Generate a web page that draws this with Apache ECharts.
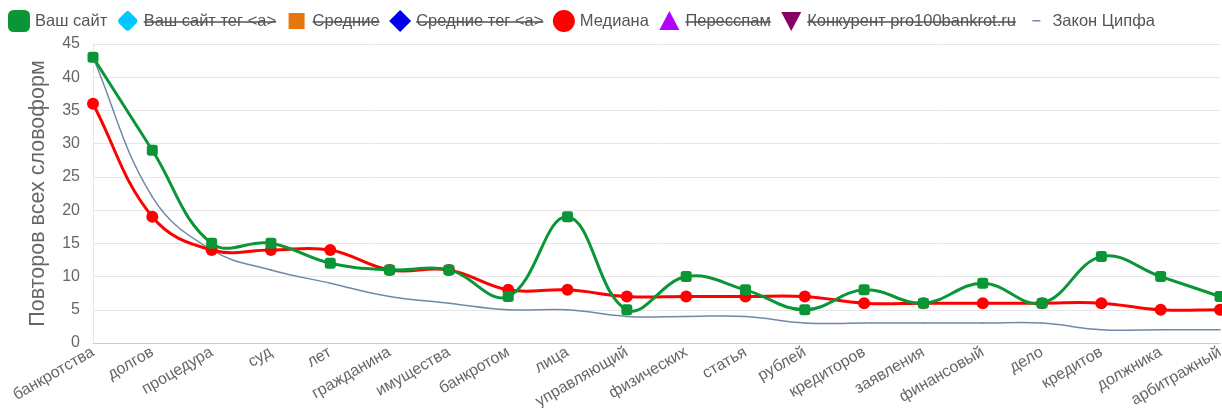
<!DOCTYPE html>
<html><head><meta charset="utf-8">
<script src="https://cdn.jsdelivr.net/npm/echarts@6/dist/echarts.min.js"></script>
<style>html,body{margin:0;padding:0;background:#fff}#c{width:1222px;height:408px}</style>
</head><body><div id="c"></div>
<script>
const categories = ['банкротства','долгов','процедура','суд','лет','гражданина','имущества','банкротом','лица','управляющий','физических','статья','рублей','кредиторов','заявления','финансовый','дело','кредитов','должника','арбитражный'];
const siteValues = [43,29,15,15,12,11,11,7,19,5,10,8,5,8,6,9,6,13,10,7];
const medianValues = [36,19,14,14,14,11,11,8,8,7,7,7,7,6,6,6,6,6,5,5];
const zipfValues = [43,22,14,11,9,7,6,5,5,4,4,4,3,3,3,3,3,2,2,2];
const legendNames = ['Ваш сайт','Ваш сайт тег <a>','Средние','Средние тег <a>','Медиана','Пересспам','Конкурент pro100bankrot.ru','Закон Ципфа'];
const hiddenNames = ['Ваш сайт тег <a>','Средние','Средние тег <a>','Пересспам','Конкурент pro100bankrot.ru'];
const yTicks = {min:0, max:45, interval:5};

const colors = {
  'Ваш сайт':'#0a9636',
  'Ваш сайт тег <a>':'#00c8ff',
  'Средние':'#e8760f',
  'Средние тег <a>':'#0000ee',
  'Медиана':'#ff0000',
  'Пересспам':'#b400ff',
  'Конкурент pro100bankrot.ru':'#870064',
  'Закон Ципфа':'#7189a8'
};
const icons = {
  'Ваш сайт':'roundRect',
  'Ваш сайт тег <a>':'path://M0,0M22,22M11,1Q12,1 13,2L20,9Q21,11 20,13L13,20Q11,21.5 9,20L2,13Q0.5,11 2,9L9,2Q10,1 11,1Z',
  'Средние':'path://M0,0M22,22M3,3L19,3L19,19L3,19Z',
  'Средние тег <a>':'diamond',
  'Медиана':'circle',
  'Пересспам':'path://M0,0M22,22M11,1L21,20L1,20Z',
  'Конкурент pro100bankrot.ru':'path://M0,0M22,22M1,2L21,2L11,21Z',
  'Закон Ципфа':'path://M0,0M22,22M7,10L15,10L15,11.5L7,11.5Z'
};

const FONT = 'Liberation Sans';
const LEG_LEFT = 8, LEG_TOP = 10, ITEM_W = 22, ITEM_H = 22, ITEM_GAP = 9.5, LEG_FS = 16.5;

// strike-through decorations for disabled legend entries
const mctx = document.createElement('canvas').getContext('2d');
mctx.font = LEG_FS + 'px "' + FONT + '"';
const strikes = [];
let lx = LEG_LEFT;
legendNames.forEach(n => {
  const tw = mctx.measureText(n).width;
  const tx = lx + ITEM_W + 5;
  if (hiddenNames.includes(n)) {
    strikes.push({type:'line', silent:true, z:100,
      shape:{x1:tx, y1:LEG_TOP + ITEM_H/2 + 1, x2:tx + tw, y2:LEG_TOP + ITEM_H/2 + 1},
      style:{stroke:'#555', lineWidth:1.5}});
  }
  lx = tx + tw + ITEM_GAP;
});

// cardinal-style spline (tension 0.4), control points from neighbouring points
const TENSION = 0.4;
function controls(pts, i) {
  const cur = pts[i];
  const prev = pts[Math.max(0, i-1)], next = pts[Math.min(pts.length-1, i+1)];
  const d01 = Math.hypot(cur[0]-prev[0], cur[1]-prev[1]);
  const d12 = Math.hypot(next[0]-cur[0], next[1]-cur[1]);
  let s01 = d01/(d01+d12), s12 = d12/(d01+d12);
  if (!isFinite(s01)) s01 = 0;
  if (!isFinite(s12)) s12 = 0;
  const fa = TENSION*s01, fb = TENSION*s12;
  return {
    px: cur[0] - fa*(next[0]-prev[0]), py: cur[1] - fa*(next[1]-prev[1]),
    nx: cur[0] + fb*(next[0]-prev[0]), ny: cur[1] + fb*(next[1]-prev[1])
  };
}
function splineSeries(name, values, width, z) {
  return {
    name, type:'custom', z, silent:true,
    data: values.map((v, i) => [i, v]),
    encode:{x:0, y:1},
    renderItem(params, api) {
      const i = params.dataIndex;
      if (i === 0) return null;
      const pts = values.map((v, k) => api.coord([k, v]));
      const a = controls(pts, i-1), b = controls(pts, i);
      const p0 = pts[i-1], p1 = pts[i];
      return {type:'path',
        shape:{pathData:`M${p0[0]},${p0[1]}C${a.nx},${a.ny} ${b.px},${b.py} ${p1[0]},${p1[1]}`},
        style:{stroke:colors[name], lineWidth:width, fill:null, lineCap:'round', lineJoin:'round'}};
    }
  };
}

const series = [
  splineSeries('Закон Ципфа', zipfValues, 1.5, 2),
  splineSeries('Медиана', medianValues, 3, 3),
  splineSeries('Ваш сайт', siteValues, 3, 4),
  {name:'Медиана', type:'scatter', data:medianValues, symbol:'circle', symbolSize:12,
   itemStyle:{color:colors['Медиана'], opacity:1}, z:5},
  {name:'Ваш сайт', type:'scatter', data:siteValues, symbol:'roundRect', symbolSize:11,
   itemStyle:{color:colors['Ваш сайт'], opacity:1}, z:6},
  {name:'Ваш сайт тег <a>', type:'line', data:[], itemStyle:{color:colors['Ваш сайт тег <a>']}},
  {name:'Средние', type:'line', data:[], itemStyle:{color:colors['Средние']}},
  {name:'Средние тег <a>', type:'line', data:[], itemStyle:{color:colors['Средние тег <a>']}},
  {name:'Пересспам', type:'line', data:[], itemStyle:{color:colors['Пересспам']}},
  {name:'Конкурент pro100bankrot.ru', type:'line', data:[], itemStyle:{color:colors['Конкурент pro100bankrot.ru']}}
];

const chart = echarts.init(document.getElementById('c'), null, {renderer:'canvas'});
chart.setOption({
  animation:false,
  backgroundColor:'#fff',
  textStyle:{fontFamily:FONT},
  legend:{
    left:LEG_LEFT, top:LEG_TOP, orient:'horizontal', itemWidth:ITEM_W, itemHeight:ITEM_H, itemGap:ITEM_GAP,
    padding:0,
    textStyle:{fontSize:LEG_FS, color:'#555', fontFamily:FONT},
    data: legendNames.map(n => ({name:n, icon:icons[n], itemStyle:{color:colors[n], borderWidth:0, opacity:1}}))
  },
  graphic: strikes,
  grid:{left:93, right:2, top:44, bottom:65, containLabel:false, outerBoundsMode:'none'},
  xAxis:{
    type:'category', data:categories, boundaryGap:false,
    axisLine:{show:true, lineStyle:{color:'#ccc', width:1}},
    axisTick:{show:false},
    axisLabel:{rotate:30, fontSize:16, color:'#666', margin:8, interval:0, fontFamily:FONT},
    splitLine:{show:false}
  },
  yAxis:{
    type:'value', min:yTicks.min, max:yTicks.max, interval:yTicks.interval,
    name:'Повторов всех словоформ', nameLocation:'middle', nameRotate:90, nameGap:44,
    nameTextStyle:{fontSize:21.5, color:'#666', fontFamily:FONT},
    axisLine:{show:true, lineStyle:{color:'#e6e6e6'}},
    axisTick:{show:false},
    axisLabel:{fontSize:16, color:'#666', margin:13, fontFamily:FONT},
    splitLine:{show:true, lineStyle:{color:'#e6e6e6', width:1}}
  },
  series: series
});
</script></body></html>
